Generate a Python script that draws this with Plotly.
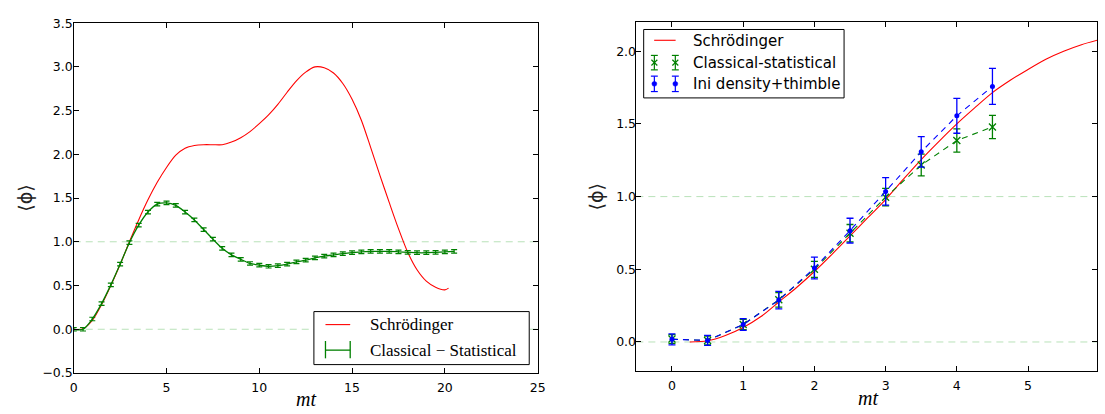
import plotly.graph_objects as go

W, H = 1105, 414

# ---------------- left panel data ----------------
t_schr_long = [0, 0.5, 1, 1.5, 2, 2.5, 3, 3.5, 4, 4.5, 5, 5.5, 6, 6.5, 7, 7.5, 8, 8.5, 9, 9.5,
               10, 10.5, 11, 11.5, 12, 12.5, 13, 13.5, 14, 14.5, 15, 15.5, 16, 16.5, 17, 17.5,
               18, 18.5, 19, 19.5, 20, 20.2]
phi_schr_long = [0.0, 0.005, 0.1, 0.28, 0.5, 0.74, 1.0, 1.25, 1.48, 1.68, 1.85, 1.99, 2.07, 2.10,
                 2.11, 2.11, 2.11, 2.14, 2.19, 2.26, 2.35, 2.45, 2.57, 2.71, 2.84, 2.94, 3.0,
                 2.99, 2.93, 2.81, 2.63, 2.39, 2.08, 1.76, 1.45, 1.15, 0.88, 0.68, 0.55, 0.48,
                 0.45, 0.47]

t_cs_long = [0, 0.5, 1, 1.5, 2, 2.5, 3, 3.5, 4, 4.5, 5, 5.5, 6, 6.5, 7, 7.5, 8, 8.5, 9, 9.5,
             10, 10.5, 11, 11.5, 12, 12.5, 13, 13.5, 14, 14.5, 15, 15.5, 16, 16.5, 17, 17.5,
             18, 18.5, 19, 19.5, 20, 20.5]
phi_cs_long = [0.0, 0.0, 0.117, 0.293, 0.507, 0.745, 0.99, 1.19, 1.34, 1.43, 1.445, 1.416, 1.34,
               1.25, 1.14, 1.03, 0.925, 0.85, 0.80, 0.752, 0.733, 0.72, 0.727, 0.745, 0.77,
               0.79, 0.815, 0.835, 0.85, 0.865, 0.875, 0.885, 0.89, 0.89, 0.89, 0.885, 0.88,
               0.875, 0.875, 0.88, 0.885, 0.89]
err_cs_long = [0.02] * len(t_cs_long)

# ---------------- right panel data ----------------
t_schr_short = [0.25, 0.5, 0.75, 1, 1.25, 1.5, 1.75, 2, 2.25, 2.5, 2.75, 3, 3.25, 3.5, 3.75, 4,
                4.25, 4.5, 4.75, 5, 5.25, 5.5, 5.75, 6]
phi_schr_short = [0.0, 0.008, 0.045, 0.1, 0.175, 0.275, 0.375, 0.485, 0.605, 0.73, 0.855, 0.98,
                  1.12, 1.255, 1.38, 1.50, 1.61, 1.715, 1.80, 1.875, 1.945, 2.0, 2.045, 2.08]

t_pts = [0, 0.5, 1, 1.5, 2, 2.5, 3, 3.5, 4, 4.5]
phi_cs_short = [0.02, 0.01, 0.12, 0.29, 0.50, 0.748, 0.996, 1.217, 1.386, 1.479]
err_cs_short = [0.03, 0.03, 0.035, 0.05, 0.055, 0.06, 0.06, 0.075, 0.08, 0.08]
phi_thimble = [0.018, 0.011, 0.12, 0.288, 0.509, 0.766, 1.036, 1.308, 1.556, 1.758]
err_thimble = [0.038, 0.035, 0.04, 0.06, 0.075, 0.085, 0.095, 0.105, 0.12, 0.124]

# tick positions
xticks_long = [0, 5, 10, 15, 20, 25]
yticks_long = [-0.5, 0, 0.5, 1, 1.5, 2, 2.5, 3, 3.5]
xticks_short = [0, 1, 2, 3, 4, 5, 6]
yticks_short = [0, 0.5, 1, 1.5, 2]

RED = "#ff0000"
GREEN = "#008000"
BLUE = "#0000ff"
GUIDE = "#b9e2b9"


def px(x):
    return x / W


def py(y):
    return 1 - y / H


fig = go.Figure()

# left panel traces
fig.add_trace(go.Scatter(x=t_schr_long, y=phi_schr_long, mode="lines",
                         line=dict(color=RED, width=1.1, shape="spline", smoothing=0.8),
                         xaxis="x", yaxis="y", showlegend=False))
fig.add_trace(go.Scatter(x=t_cs_long, y=phi_cs_long, mode="lines",
                         line=dict(color=GREEN, width=1.3, shape="spline", smoothing=0.8),
                         error_y=dict(type="data", array=err_cs_long, color=GREEN, thickness=1.2, width=3),
                         xaxis="x", yaxis="y", showlegend=False))

# right panel traces
fig.add_trace(go.Scatter(x=t_schr_short, y=phi_schr_short, mode="lines",
                         line=dict(color=RED, width=1.1, shape="spline", smoothing=0.8),
                         xaxis="x2", yaxis="y2", showlegend=False))
fig.add_trace(go.Scatter(x=t_pts, y=phi_cs_short, mode="lines+markers",
                         line=dict(color=GREEN, width=1.1, dash="6px,5px"),
                         marker=dict(symbol="x-thin", size=7, line=dict(color=GREEN, width=1.3)),
                         error_y=dict(type="data", array=err_cs_short, color=GREEN, thickness=1.3, width=3.5),
                         xaxis="x2", yaxis="y2", showlegend=False))
fig.add_trace(go.Scatter(x=t_pts, y=phi_thimble, mode="lines+markers",
                         line=dict(color=BLUE, width=1.1, dash="6px,5px"),
                         marker=dict(symbol="circle", size=5, color=BLUE),
                         error_y=dict(type="data", array=err_thimble, color=BLUE, thickness=1.3, width=3.5),
                         xaxis="x2", yaxis="y2", showlegend=False))

shapes = []
# dashed guide lines at 0 and 1
for xa, ya in (("x", "y"), ("x2", "y2")):
    for level in (0.0, 1.0):
        shapes.append(dict(type="line", xref=f"{xa} domain", yref=ya, x0=0, x1=1, y0=level, y1=level,
                           line=dict(color=GUIDE, width=1, dash="7px,5px"), layer="below"))

# left legend
shapes.append(dict(type="rect", xref="paper", yref="paper", x0=px(313.3), x1=px(531), y0=py(370), y1=py(315),
                   line=dict(color="black", width=1), fillcolor="white"))
shapes.append(dict(type="line", xref="paper", yref="paper", x0=px(325), x1=px(350), y0=py(328.5), y1=py(328.5),
                   line=dict(color=RED, width=1.1)))
shapes.append(dict(type="line", xref="paper", yref="paper", x0=px(325), x1=px(350), y0=py(355), y1=py(355),
                   line=dict(color=GREEN, width=1.3)))
for xc in (325, 350):
    shapes.append(dict(type="line", xref="paper", yref="paper", x0=px(xc), x1=px(xc), y0=py(345.5), y1=py(363.5),
                       line=dict(color=GREEN, width=1.3)))

# right legend
shapes.append(dict(type="rect", xref="paper", yref="paper", x0=px(646.7), x1=px(849.3), y0=py(93.3), y1=py(22.3),
                   line=dict(color="black", width=1), fillcolor="white"))
shapes.append(dict(type="line", xref="paper", yref="paper", x0=px(657.3), x1=px(679), y0=py(33.5), y1=py(33.5),
                   line=dict(color=RED, width=1.1)))
for xc in (657.5, 678.7):
    # green error icon with x marker
    yc, half = 56.7, 7.5
    shapes.append(dict(type="line", xref="paper", yref="paper", x0=px(xc), x1=px(xc), y0=py(yc - half), y1=py(yc + half),
                       line=dict(color=GREEN, width=1.2)))
    for yy in (yc - half, yc + half):
        shapes.append(dict(type="line", xref="paper", yref="paper", x0=px(xc - 3.5), x1=px(xc + 3.5), y0=py(yy), y1=py(yy),
                           line=dict(color=GREEN, width=1.2)))
    shapes.append(dict(type="line", xref="paper", yref="paper", x0=px(xc - 3), x1=px(xc + 3), y0=py(yc - 3), y1=py(yc + 3),
                       line=dict(color=GREEN, width=1.2)))
    shapes.append(dict(type="line", xref="paper", yref="paper", x0=px(xc - 3), x1=px(xc + 3), y0=py(yc + 3), y1=py(yc - 3),
                       line=dict(color=GREEN, width=1.2)))
    # blue error icon with dot marker
    yc, half = 78.7, 8
    shapes.append(dict(type="line", xref="paper", yref="paper", x0=px(xc), x1=px(xc), y0=py(yc - half), y1=py(yc + half),
                       line=dict(color=BLUE, width=1.2)))
    for yy in (yc - half, yc + half):
        shapes.append(dict(type="line", xref="paper", yref="paper", x0=px(xc - 3.5), x1=px(xc + 3.5), y0=py(yy), y1=py(yy),
                           line=dict(color=BLUE, width=1.2)))
    shapes.append(dict(type="circle", xref="paper", yref="paper", x0=px(xc - 2.5), x1=px(xc + 2.5), y0=py(yc + 2.5), y1=py(yc - 2.5),
                       line=dict(color=BLUE, width=0.5), fillcolor=BLUE))

SERIF = "Liberation Serif"
SANS = "DejaVu Sans"

annotations = [
    dict(text="Schrödinger", x=px(368), y=py(328.5), xref="paper", yref="paper", xanchor="left", yanchor="middle",
         showarrow=False, font=dict(family=SERIF, size=17, color="black")),
    dict(text="Classical − Statistical", x=px(368), y=py(355), xref="paper", yref="paper", xanchor="left", yanchor="middle",
         showarrow=False, font=dict(family=SERIF, size=17, color="black")),
    dict(text="Schrödinger", x=px(694.5), y=py(34), xref="paper", yref="paper", xanchor="left", yanchor="middle",
         showarrow=False, font=dict(family=SANS, size=15, color="black")),
    dict(text="Classical-statistical", x=px(694.5), y=py(56.7), xref="paper", yref="paper", xanchor="left", yanchor="middle",
         showarrow=False, font=dict(family=SANS, size=15, color="black")),
    dict(text="Ini density+thimble", x=px(694.5), y=py(78.7), xref="paper", yref="paper", xanchor="left", yanchor="middle",
         showarrow=False, font=dict(family=SANS, size=15, color="black")),
    # axis titles
    dict(text="<i>mt</i>", x=px(305), y=py(406), xref="paper", yref="paper", xanchor="center", yanchor="middle",
         showarrow=False, font=dict(family=SERIF, size=20, color="black")),
    dict(text="<i>mt</i>", x=px(873), y=py(405), xref="paper", yref="paper", xanchor="center", yanchor="middle",
         showarrow=False, font=dict(family=SERIF, size=20, color="black")),
    dict(text="⟨ϕ⟩", x=px(21), y=py(197), xref="paper", yref="paper", xanchor="center", yanchor="middle", textangle=-90,
         showarrow=False, font=dict(family="DejaVu Sans", size=19, color="#222")),
    dict(text="⟨ϕ⟩", x=px(598), y=py(196), xref="paper", yref="paper", xanchor="center", yanchor="middle", textangle=-90,
         showarrow=False, font=dict(family="DejaVu Sans", size=19, color="#222")),
]

TICKFONT = dict(family=SANS, size=12.5, color="black")
axis_common = dict(showline=True, linecolor="black", linewidth=1, mirror="ticks", ticks="inside", ticklen=5,
                   tickcolor="black", tickwidth=1, showgrid=False, zeroline=False, tickfont=TICKFONT)
# label-only y axes, overlaid on the framed ones so the numbers sit close to the frame
label_axis = dict(showline=False, ticks="", showgrid=False, zeroline=False, tickfont=TICKFONT,
                  tickformat=".1f", anchor="free", side="left")

fig.update_layout(
    width=W, height=H, margin=dict(l=0, r=0, t=0, b=0),
    paper_bgcolor="white", plot_bgcolor="white",
    xaxis=dict(domain=[px(70.5), px(539.5)], range=[0, 25], tickvals=xticks_long, anchor="y",
               ticklabelstandoff=3, **axis_common),
    yaxis=dict(domain=[py(378.7), py(15.7)], range=[-0.5, 3.5], tickvals=yticks_long,
               showticklabels=False, anchor="x", **axis_common),
    yaxis3=dict(domain=[py(378.7), py(15.7)], range=[-0.5, 3.5], tickvals=yticks_long,
                overlaying="y", position=px(69.5), **label_axis),
    xaxis2=dict(domain=[px(639.3), 1.0], range=[-0.5, 5.968], tickvals=xticks_short, anchor="y2",
                ticklabelstandoff=3, **axis_common),
    yaxis2=dict(domain=[py(376.7), py(14.7)], range=[-0.2, 2.2], tickvals=yticks_short,
                showticklabels=False, anchor="x2", **axis_common),
    yaxis4=dict(domain=[py(376.7), py(14.7)], range=[-0.2, 2.2], tickvals=yticks_short,
                overlaying="y2", position=px(639.0), **label_axis),
    shapes=shapes,
    annotations=annotations,
)

# invisible carriers so the label-only axes get drawn
fig.add_trace(go.Scatter(x=[], y=[], xaxis="x", yaxis="y3", showlegend=False, hoverinfo="skip"))
fig.add_trace(go.Scatter(x=[], y=[], xaxis="x2", yaxis="y4", showlegend=False, hoverinfo="skip"))

fig.write_html("out.html")
